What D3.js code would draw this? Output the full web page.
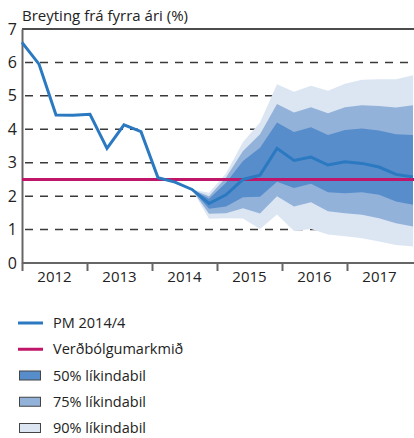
<!DOCTYPE html>
<html>
<head>
<meta charset="utf-8">
<script src="https://cdn.jsdelivr.net/npm/d3@7"></script>
<style>
  body { margin: 0; background: #fff; }
  svg text { font-family: "Open Sans", sans-serif; fill: #222; }
</style>
</head>
<body>
<div id="chart"></div>
<script>
// quarterly axis, 2012Q1 - 2017Q4
const quarters = ["2012Q1","2012Q2","2012Q3","2012Q4","2013Q1","2013Q2","2013Q3","2013Q4",
  "2014Q1","2014Q2","2014Q3","2014Q4","2015Q1","2015Q2","2015Q3","2015Q4",
  "2016Q1","2016Q2","2016Q3","2016Q4","2017Q1","2017Q2","2017Q3","2017Q4"];
// PM 2014/4 inflation path (%)
const pmValues = [6.6, 5.95, 4.43, 4.42, 4.45, 3.43, 4.13, 3.93, 2.55, 2.42, 2.2, 1.78,
  2.04, 2.5, 2.63, 3.43, 3.07, 3.17, 2.93, 3.03, 2.98, 2.87, 2.65, 2.57];
// fan chart starts at 2014Q3
const fanQuarters = quarters.slice(10);
const band50Low  = [2.2, 1.62, 1.69, 1.97, 1.98, 2.43, 2.24, 2.37, 2.12, 2.09, 2.12, 2.04, 1.84, 1.74];
const band50High = [2.2, 1.92, 2.4, 3.05, 3.45, 4.2, 3.92, 4.06, 3.83, 3.98, 4.02, 3.96, 3.85, 3.83];
const band75Low  = [2.2, 1.47, 1.49, 1.64, 1.48, 2.0, 1.69, 1.82, 1.55, 1.49, 1.44, 1.34, 1.19, 1.09];
const band75High = [2.2, 2.0, 2.56, 3.35, 3.85, 4.76, 4.5, 4.66, 4.48, 4.66, 4.72, 4.7, 4.65, 4.72];
const band90Low  = [2.2, 1.32, 1.34, 1.33, 1.02, 1.45, 0.96, 1.02, 0.85, 0.8, 0.74, 0.64, 0.54, 0.49];
const band90High = [2.2, 2.1, 2.68, 3.62, 4.2, 5.35, 5.12, 5.3, 5.15, 5.36, 5.48, 5.5, 5.5, 5.62];
const inflationTarget = 2.5;
const years = [2012, 2013, 2014, 2015, 2016, 2017];
const yTicks = [0, 1, 2, 3, 4, 5, 6, 7];
const legendLabels = ["PM 2014/4", "Verðbólgumarkmið", "50% líkindabil", "75% líkindabil", "90% líkindabil"];

const width = 414, height = 438;
const colors = {
  line: "#2a79c1",
  target: "#c0166a",
  b50: "#588dcb",
  b75: "#93b2da",
  b90: "#dce6f3"
};

const svg = d3.select("#chart").append("svg")
  .attr("width", width)
  .attr("height", height);

const x = d3.scalePoint().domain(quarters).range([22, 413]);
const xYear = d3.scaleLinear().domain([2012, 2018]).range([22, 412]);
const y = d3.scaleLinear().domain([0, 7]).range([263, 29]);

// title
svg.append("text")
  .attr("x", 22)
  .attr("y", 21)
  .attr("font-size", "15px")
  .text("Breyting frá fyrra ári (%)");

// dashed gridlines
svg.append("g")
  .selectAll("line")
  .data(yTicks.filter(d => d > 0 && d < 7))
  .join("line")
  .attr("x1", 25).attr("x2", width)
  .attr("y1", d => y(d)).attr("y2", d => y(d))
  .attr("stroke", "#3a3a3a")
  .attr("stroke-width", 1.5)
  .attr("stroke-dasharray", "8,7");

// fan bands
const fanData = fanQuarters.map((q, i) => ({
  q,
  b50: [band50Low[i], band50High[i]],
  b75: [band75Low[i], band75High[i]],
  b90: [band90Low[i], band90High[i]]
}));
["b90", "b75", "b50"].forEach(key => {
  const area = d3.area()
    .x(d => x(d.q))
    .y0(d => y(d[key][0]))
    .y1(d => y(d[key][1]));
  svg.append("path")
    .datum(fanData)
    .attr("d", area)
    .attr("fill", colors[key]);
});

// axes
svg.append("line")
  .attr("x1", 22).attr("x2", width)
  .attr("y1", y(7)).attr("y2", y(7))
  .attr("stroke", "#111").attr("stroke-width", 1.5);

const yAxis = d3.axisLeft(y).tickValues(yTicks).tickSize(0).tickPadding(5).tickFormat(d3.format("d"));
const gy = svg.append("g").attr("transform", "translate(22,0)").call(yAxis);
gy.select(".domain").attr("stroke", "#666").attr("stroke-width", 2);
gy.selectAll("text").attr("font-size", "16px").attr("font-family", "Open Sans, sans-serif").attr("fill", "#222");

const xAxis = d3.axisBottom(xYear).tickValues(years).tickSize(8).tickFormat("");
const gx = svg.append("g").attr("transform", `translate(0,${y(0)})`).call(xAxis);
gx.select(".domain").attr("d", `M22,0H${width}`).attr("stroke", "#666").attr("stroke-width", 2);
gx.selectAll(".tick line").attr("stroke", "#666").attr("stroke-width", 2);

svg.append("g")
  .selectAll("text")
  .data(years)
  .join("text")
  .attr("x", d => (xYear(d) + xYear(d + 1)) / 2)
  .attr("y", 282)
  .attr("text-anchor", "middle")
  .attr("font-size", "15px")
  .text(d => d);

// inflation target
svg.append("line")
  .attr("x1", 22).attr("x2", width)
  .attr("y1", y(inflationTarget)).attr("y2", y(inflationTarget))
  .attr("stroke", colors.target)
  .attr("stroke-width", 3);

// PM line
const line = d3.line()
  .x((d, i) => x(quarters[i]))
  .y(d => y(d));
svg.append("path")
  .datum(pmValues)
  .attr("d", line)
  .attr("fill", "none")
  .attr("stroke", colors.line)
  .attr("stroke-width", 3)
  .attr("stroke-linejoin", "miter");

// legend
const legendY = d3.scalePoint().domain(legendLabels).range([323, 428]);
const legend = svg.append("g");
legendLabels.forEach((label, i) => {
  const ly = legendY(label);
  if (i < 2) {
    legend.append("line")
      .attr("x1", 18).attr("x2", 43)
      .attr("y1", ly).attr("y2", ly)
      .attr("stroke", i === 0 ? colors.line : colors.target)
      .attr("stroke-width", 3);
  } else {
    legend.append("rect")
      .attr("x", 19.5).attr("y", ly - 4.5)
      .attr("width", 21).attr("height", 9)
      .attr("fill", [colors.b50, colors.b75, colors.b90][i - 2])
      .attr("stroke", "#444")
      .attr("stroke-width", 1);
  }
  legend.append("text")
    .attr("x", 53)
    .attr("y", ly + 5)
    .attr("font-size", "14.5px")
    .text(label);
});
</script>
</body>
</html>
